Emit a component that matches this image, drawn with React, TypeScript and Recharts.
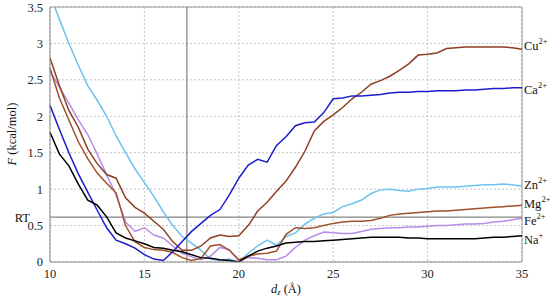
import { LineChart, Line, XAxis, YAxis, CartesianGrid, ReferenceLine } from 'recharts'

document.body.style.margin = '0'

// distance d_z (Å), 0.5 Å steps
const dz = [
  10, 10.5, 11, 11.5, 12, 12.5, 13, 13.5, 14, 14.5, 15, 15.5, 16, 16.5, 17, 17.5, 18, 18.5, 19, 19.5,
  20, 20.5, 21, 21.5, 22, 22.5, 23, 23.5, 24, 24.5, 25, 25.5, 26, 26.5, 27, 27.5, 28, 28.5, 29, 29.5,
  30, 30.5, 31, 31.5, 32, 32.5, 33, 33.5, 34, 34.5, 35,
]

// free energy profiles, kcal/mol
const cu = [
  2.8, 2.42, 2.08, 1.85, 1.55, 1.35, 1.2, 1.15, 0.88, 0.75, 0.67, 0.56, 0.45, 0.28, 0.16, 0.16, 0.22, 0.33, 0.37, 0.35,
  0.36, 0.5, 0.7, 0.82, 0.97, 1.11, 1.3, 1.52, 1.8, 1.93, 2.02, 2.12, 2.24, 2.33, 2.44, 2.49, 2.55, 2.63, 2.72, 2.84,
  2.85, 2.87, 2.93, 2.94, 2.95, 2.95, 2.95, 2.95, 2.95, 2.94, 2.92,
]
const ca = [
  2.15, 1.82, 1.5, 1.21, 0.96, 0.71, 0.47, 0.3, 0.25, 0.19, 0.1, 0.04, 0.02, 0.14, 0.28, 0.42, 0.53, 0.64, 0.72, 0.92,
  1.15, 1.33, 1.41, 1.37, 1.6, 1.72, 1.87, 1.91, 1.92, 2.05, 2.24, 2.25, 2.28, 2.28, 2.29, 2.3, 2.32, 2.33, 2.33, 2.34,
  2.34, 2.35, 2.35, 2.35, 2.36, 2.36, 2.37, 2.38, 2.38, 2.39, 2.39,
]
const zn = [
  3.67, 3.33, 3.0, 2.7, 2.42, 2.22, 2.0, 1.73, 1.5, 1.28, 1.09, 0.9, 0.69, 0.5, 0.35, 0.26, 0.16, 0.04, 0.02, 0.04,
  0.0, 0.12, 0.22, 0.3, 0.23, 0.35, 0.4, 0.52, 0.6, 0.66, 0.68, 0.76, 0.8, 0.85, 0.94, 0.99, 1.0, 0.98, 0.97, 1.0,
  1.01, 1.03, 1.03, 1.03, 1.04, 1.05, 1.06, 1.06, 1.07, 1.06, 1.04,
]
const mg = [
  2.66, 2.25, 1.95, 1.65, 1.42, 1.22, 1.08, 0.95, 0.5, 0.28, 0.2, 0.17, 0.16, 0.13, 0.06, 0.02, 0.05, 0.22, 0.24, 0.16,
  0.03, 0.08, 0.11, 0.12, 0.15, 0.38, 0.47, 0.46, 0.47, 0.5, 0.53, 0.55, 0.56, 0.56, 0.57, 0.6, 0.64, 0.66, 0.67, 0.68,
  0.69, 0.7, 0.7, 0.71, 0.72, 0.73, 0.74, 0.75, 0.76, 0.77, 0.78,
]
const fe = [
  2.62, 2.4, 2.18, 1.95, 1.75, 1.48, 1.2, 0.92, 0.55, 0.42, 0.47, 0.37, 0.33, 0.22, 0.12, 0.07, 0.03, 0.08, 0.2, 0.17,
  0.02, 0.06, 0.05, 0.03, 0.03, 0.08, 0.2, 0.3, 0.36, 0.41, 0.4, 0.39, 0.39, 0.42, 0.45, 0.46, 0.47, 0.47, 0.48, 0.48,
  0.49, 0.5, 0.5, 0.51, 0.52, 0.52, 0.53, 0.55, 0.56, 0.58, 0.6,
]
const na = [
  1.78, 1.48, 1.32, 1.07, 0.85, 0.78, 0.62, 0.4, 0.33, 0.29, 0.25, 0.2, 0.19, 0.16, 0.14, 0.1, 0.06, 0.05, 0.03, 0.02,
  0.0, 0.08, 0.15, 0.19, 0.22, 0.26, 0.27, 0.28, 0.28, 0.29, 0.3, 0.31, 0.32, 0.33, 0.34, 0.34, 0.34, 0.34, 0.33, 0.33,
  0.32, 0.32, 0.32, 0.32, 0.32, 0.32, 0.33, 0.34, 0.34, 0.35, 0.36,
]

const xTicks = [10, 15, 20, 25, 30, 35]
const yTicks = [0, 0.5, 1, 1.5, 2, 2.5, 3, 3.5]
const rt = 0.616
const markerX = 17.25

const data = dz.map((d, i) => ({
  dz: d, cu: cu[i], ca: ca[i], zn: zn[i], mg: mg[i], fe: fe[i], na: na[i],
}))

const FONT = 'Liberation Serif, DejaVu Serif, serif'

// key, ion, charge, colour, label nudge
const series = [
  { key: 'zn', ion: 'Zn', charge: '2+', color: '#6cc3ee', dy: -1 },
  { key: 'fe', ion: 'Fe', charge: '2+', color: '#b58de8', dy: 3 },
  { key: 'mg', ion: 'Mg', charge: '2+', color: '#a0502a', dy: -1 },
  { key: 'cu', ion: 'Cu', charge: '2+', color: '#8c3f22', dy: -3 },
  { key: 'ca', ion: 'Ca', charge: '2+', color: '#1c1ccc', dy: 2 },
  { key: 'na', ion: 'Na', charge: '+', color: '#000000', dy: 4 },
]

function endLabel(ion: string, charge: string, dy: number) {
  return (props: any) => {
    if (props.index !== dz.length - 1) return null
    return (
      <text x={props.x + 2} y={props.y + dy} dominantBaseline="central" style={{ fontFamily: FONT }} fontSize={12.5} fill="#111">
        {ion}
        <tspan dy={-5} fontSize={8.5}>{charge}</tspan>
      </text>
    )
  }
}

const yLabel = () => (
  <text transform="translate(12,134) rotate(-90)" textAnchor="middle" dominantBaseline="central"
    style={{ fontFamily: FONT }} fontSize={12.5} fill="#111">
    <tspan fontStyle="italic">F</tspan> (kcal/mol)
  </text>
)

const xLabel = () => (
  <text x={286} y={289} textAnchor="middle" dominantBaseline="central" style={{ fontFamily: FONT }} fontSize={12.5} fill="#111">
    <tspan fontStyle="italic">d</tspan>
    <tspan fontStyle="italic" fontSize={8.5} dy={3}>z</tspan>
    <tspan dy={-3}> (Å)</tspan>
  </text>
)

export default function App() {
  const tick = { fontFamily: FONT, style: { fontFamily: FONT }, fontSize: 12.5, fill: '#222' }
  return (
    <div style={{ fontFamily: FONT }}>
      <LineChart width={550} height={298} data={data} margin={{ top: 7, right: 28, bottom: 0, left: 0 }}>
        <CartesianGrid stroke="#c4c4c4" strokeDasharray="2 2" />
        <XAxis dataKey="dz" type="number" domain={[10, 35]} ticks={xTicks} height={36}
          tickSize={0} tickMargin={7} tick={tick} axisLine={{ stroke: '#888' }} label={xLabel} />
        <YAxis type="number" domain={[0, 3.5]} ticks={yTicks} allowDataOverflow width={50}
          tickSize={0} tickMargin={7} tick={tick} axisLine={{ stroke: '#888' }} label={yLabel} />
        <ReferenceLine y={3.5} stroke="#999" />
        <ReferenceLine x={35} stroke="#999" />
        <ReferenceLine x={markerX} stroke="#666" />
        <ReferenceLine y={rt} stroke="#666"
          label={{ value: 'RT', position: 'left', offset: 20, fontFamily: FONT, style: { fontFamily: FONT }, fontSize: 12.5, fill: '#111' }} />
        {series.map((s) => (
          <Line key={s.key} dataKey={s.key} type="linear" stroke={s.color} strokeWidth={1.5}
            dot={false} isAnimationActive={false} label={endLabel(s.ion, s.charge, s.dy)} />
        ))}
      </LineChart>
    </div>
  )
}
